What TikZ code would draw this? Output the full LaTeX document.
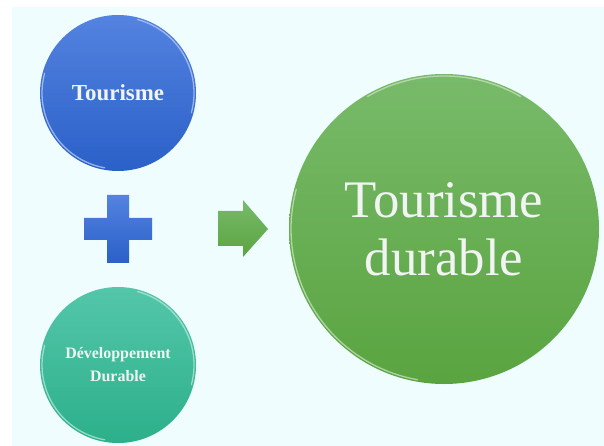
\documentclass[tikz,border=0pt]{standalone}
\usepackage{fontspec}
\setmainfont{Liberation Serif}
\definecolor{bgc}{RGB}{240,253,255}
\definecolor{blueT}{RGB}{84,131,224}
\definecolor{blueB}{RGB}{42,96,200}
\definecolor{tealT}{RGB}{84,198,170}
\definecolor{tealB}{RGB}{44,176,138}
\definecolor{greenT}{RGB}{120,186,106}
\definecolor{greenB}{RGB}{90,164,64}
\definecolor{txt}{RGB}{242,244,244}
\begin{document}
\begin{tikzpicture}[x=1bp,y=-1bp,
  disc/.style={circle,inner sep=0pt,align=center,text=txt},
  hl/.style={line width=1.3bp,draw opacity=0.75,line cap=round}]
\useasboundingbox (0,0) rectangle (604,446);
\fill[bgc] (12,7) rectangle (604,446);
% circles
\node[disc,minimum size=156bp,top color=blueT,bottom color=blueB,
  font=\bfseries\fontsize{23}{26}\selectfont] (tour) at (118,93) {Tourisme};
\node[disc,minimum size=156bp,top color=tealT,bottom color=tealB,
  font=\bfseries\fontsize{16}{23}\selectfont] (dev) at (118,365) {Développement\\Durable};
\node[disc,minimum size=310bp,top color=greenT,bottom color=greenB,
  font=\fontsize{53}{58}\selectfont] (td) at (444,229) {Tourisme\\durable};
% rim highlights (y axis points down: 90 = bottom)
\draw[hl,draw=blueT!40!white] (tour.center) ++(100:76) arc[start angle=100,end angle=195,radius=76];
\draw[hl,draw=blueT!40!white] (tour.center) ++(-75:76) arc[start angle=-75,end angle=15,radius=76];
\draw[hl,draw=tealT!40!white] (dev.center) ++(100:76) arc[start angle=100,end angle=195,radius=76];
\draw[hl,draw=tealT!40!white] (dev.center) ++(-75:76) arc[start angle=-75,end angle=15,radius=76];
\draw[hl,draw=greenT!40!white] (td.center) ++(100:153) arc[start angle=100,end angle=195,radius=153];
\draw[hl,draw=greenT!40!white] (td.center) ++(-120:153) arc[start angle=-120,end angle=-60,radius=153];
% plus sign
\shade[top color=blueT,bottom color=blueB]
  (107,195) -- (129,195) -- (129,218) -- (152,218) -- (152,240) -- (129,240)
  -- (129,263) -- (107,263) -- (107,240) -- (84,240) -- (84,218) -- (107,218) -- cycle;
% block arrow
\shade[top color=greenT,bottom color=greenB]
  (218,211) -- (243,211) -- (243,200) -- (268,229) -- (243,257) -- (243,246)
  -- (218,246) -- cycle;
\end{tikzpicture}
\end{document}
